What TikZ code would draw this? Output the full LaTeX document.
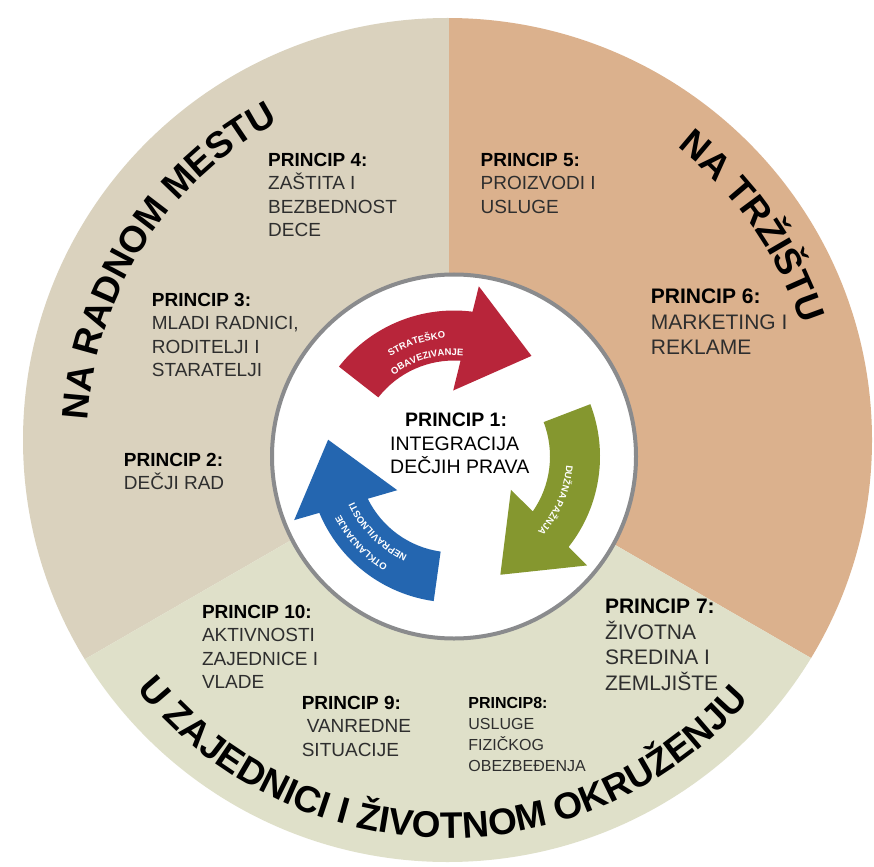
\documentclass[tikz,border=0pt]{standalone}
\usepackage{fontspec}
\setmainfont{Liberation Sans}
\usetikzlibrary{calc,decorations.text}
\definecolor{secL}{HTML}{DAD2BE}
\definecolor{secR}{HTML}{DBB18D}
\definecolor{secB}{HTML}{DFE0C9}
\definecolor{ringgrey}{HTML}{8A8B8D}
\definecolor{arrred}{HTML}{B8253A}
\definecolor{arrgreen}{HTML}{85972F}
\definecolor{arrblue}{HTML}{2466B0}
\definecolor{txtgrey}{HTML}{2E2E2E}
\newcommand\titlefnt{\bfseries\fontsize{37}{40}\selectfont}
\newcommand\arrfnt{\bfseries\fontsize{9.5}{10}\selectfont\color{white}}
\newcommand\hd[1]{{\bfseries\color{black}#1}}
\tikzset{
  lbl/.style={anchor=north west, inner sep=0pt, align=left, text=txtgrey, font=\fontsize{19}{23.5}\selectfont},
  lblbig/.style={lbl, font=\fontsize{21}{25.5}\selectfont},
  lblsmall/.style={lbl, font=\fontsize{16}{21}\selectfont},
  cyclearrow/.pic={
    \fill[pic actions] (0:146pt) arc[start angle=0, end angle=-59.3, radius=146pt]
      -- (-60.3:172pt) -- (-89.6:127pt) -- (-51.3:66pt) -- (-55.9:96pt)
      arc[start angle=-55.9, end angle=0, radius=96pt] -- cycle;
  },
  arctext/.style={decorate, decoration={text along path, text align=center, text={#1}}}
}
\begin{document}
\begin{tikzpicture}[x=1pt,y=1pt]
\useasboundingbox (0,0) rectangle (874,-866);
\fill[white] (0,0) rectangle (874,-866);
\coordinate (B) at (447.5,-440);
\coordinate (S) at (449,-449);
\coordinate (C) at (454,-456.5);
% sectors
\begin{scope}
  \clip (B) ellipse [x radius=424.5pt, y radius=422pt];
  \fill[secL] (S) -- ($(S)+(90:900pt)$) -- ($(S)+(150:900pt)$) -- ($(S)+(210:900pt)$) -- cycle;
  \fill[secR] (S) -- ($(S)+(90:900pt)$) -- ($(S)+(30:900pt)$) -- ($(S)+(330:900pt)$) -- cycle;
  \fill[secB] (S) -- ($(S)+(210:900pt)$) -- ($(S)+(270:900pt)$) -- ($(S)+(330:900pt)$) -- cycle;
\end{scope}
% inner circle
\draw[ringgrey, line width=4pt, fill=white] (C) circle[radius=182pt];
% arrows
\pic[fill=arrred, rotate=142] at (C) {cyclearrow};
\pic[fill=arrgreen, rotate=21] at (C) {cyclearrow};
\pic[fill=arrblue, rotate=262] at (C) {cyclearrow};
% arrow texts
\path[arctext={|\arrfnt|STRATEŠKO}] ($(C)+(148.3:118.6pt)$) arc[start angle=148.3, end angle=68.3, radius=118.6pt];
\path[arctext={|\arrfnt|OBAVEZIVANJE}] ($(C)+(145.7:101.3pt)$) arc[start angle=145.7, end angle=65.7, radius=101.3pt];
\path[arctext={|\arrfnt|DUŽNA PAŽNJA}] ($(C)+(16.8:112.6pt)$) arc[start angle=16.8, end angle=-63.2, radius=112.6pt];
\path[arctext={|\arrfnt|OTKLANJANJE}] ($(C)+(263:127.6pt)$) arc[start angle=263, end angle=183, radius=127.6pt];
\path[arctext={|\arrfnt|NEPRAVILNOSTI}] ($(C)+(264.7:109.6pt)$) arc[start angle=264.7, end angle=184.7, radius=109.6pt];
% titles
\path[arctext={|\titlefnt|NA RADNOM MESTU}] ($(B)+(197.4:360pt)$) arc[start angle=197.4, end angle=97.4, radius=360pt];
\path[arctext={|\titlefnt|NA TRŽIŠTU}] ($(B)+(85:372pt)$) arc[start angle=85, end angle=-15, radius=372pt];
\path[arctext={|\titlefnt|U ZAJEDNICI I ŽIVOTNOM OKRUŽENJU}] ($(B)+(199:398pt)$) arc[start angle=199, end angle=339, radius=398pt];
% labels
\node[lbl, text=black, font=\fontsize{19.5}{23.5}\selectfont] (p1) at (390,-413) {\hspace*{15pt}\hd{PRINCIP 1:}\\INTEGRACIJA\\DEČJIH PRAVA};
\node[lbl] (p2) at (123.7,-453) {\hd{PRINCIP 2:}\\DEČJI RAD};
\node[lbl] (p3) at (151.7,-293) {\hd{PRINCIP 3:}\\MLADI RADNICI,\\RODITELJI I\\STARATELJI};
\node[lbl] (p4) at (268,-153) {\hd{PRINCIP 4:}\\ZAŠTITA I\\BEZBEDNOST\\DECE};
\node[lbl] (p5) at (480.5,-153) {\hd{PRINCIP 5:}\\PROIZVODI I\\USLUGE};
\node[lblbig] (p6) at (650.7,-289) {\hd{PRINCIP 6:}\\MARKETING I\\REKLAME};
\node[lblbig] (p7) at (604.8,-599) {\hd{PRINCIP 7:}\\ŽIVOTNA\\SREDINA I\\ZEMLJIŠTE};
\node[lblsmall] (p8) at (468.2,-697) {\hd{PRINCIP8:}\\USLUGE\\FIZIČKOG\\OBEZBEĐENJA};
\node[lbl] (p9) at (301.6,-696) {\hd{PRINCIP 9:}\\\hspace*{5pt}VANREDNE\\SITUACIJE};
\node[lbl] (p10) at (201.8,-605) {\hd{PRINCIP 10:}\\AKTIVNOSTI\\ZAJEDNICE I\\VLADE};
\end{tikzpicture}
\end{document}
